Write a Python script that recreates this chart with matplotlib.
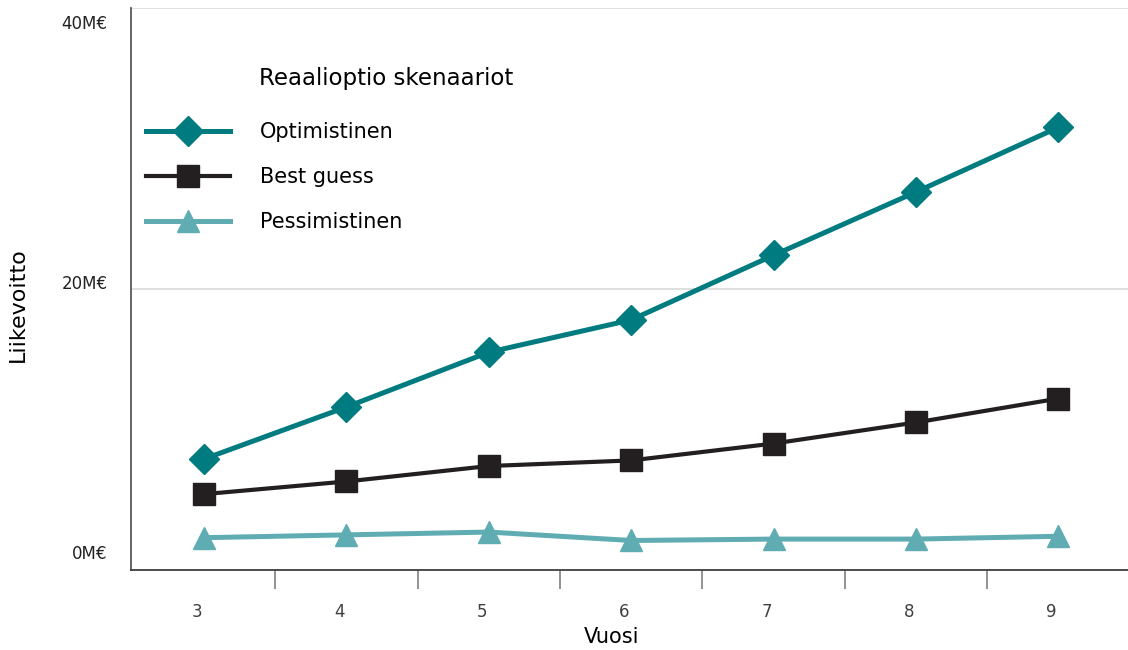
import numpy as np
import matplotlib
matplotlib.use('Agg')
import matplotlib.pyplot as plt
from matplotlib.transforms import ScaledTranslation

# Data (values in M€)
years = [3, 4, 5, 6, 7, 8, 9]
optimistinen = [7.9, 11.6, 15.5, 17.8, 22.4, 26.9, 31.5]
best_guess = [5.4, 6.3, 7.4, 7.8, 9.0, 10.5, 12.2]
pessimistinen = [2.3, 2.5, 2.7, 2.1, 2.2, 2.2, 2.4]
y_ticks = [0, 20, 40]
y_tick_labels = ['0M€', '20M€', '40M€']

c_opt = '#007B80'
c_best = '#231F20'
c_pess = '#5FADB3'

fig = plt.figure(figsize=(11.28, 6.5), dpi=100)
ax = fig.add_axes([131 / 1128, 80 / 650, 997 / 1128, 562 / 650])

ax.plot(years, optimistinen, color=c_opt, lw=3.6, marker='D', ms=15, mec=c_opt,
        label='Optimistinen', zorder=4)
ax.plot(years, best_guess, color=c_best, lw=3.0, marker='s', ms=15.5, mec=c_best,
        label='Best guess', zorder=4)
ax.plot(years, pessimistinen, color=c_pess, lw=3.6, marker='^', ms=15.5, mec=c_pess,
        label='Pessimistinen', zorder=4)

ax.set_xlim(2.487, 9.49)
ax.set_ylim(0, 40)

# y axis: gridlines at 0/20/40, labels placed like the original
ax.set_yticks(y_ticks)
ax.set_yticklabels(y_tick_labels, fontsize=12, color='#222222')
ax.tick_params(axis='y', length=0, pad=17)
offsets = [18, 7, -14]  # px upward shift of each label
for lab, off in zip(ax.get_yticklabels(), offsets):
    lab.set_transform(lab.get_transform() + ScaledTranslation(0, off / 100, fig.dpi_scale_trans))
ax.grid(axis='y', color='#D9D9D9', lw=1.2)
ax.set_axisbelow(True)

# x axis: tick marks between categories, labels under the points
ax.set_xticks([y + 0.5 for y in years[:-1]])
ax.set_xticklabels([])
ax.tick_params(axis='x', which='major', length=14, width=1.2, color='#7F7F7F')
ax.set_xticks([y - 0.05 for y in years], minor=True)
ax.set_xticklabels([str(y) for y in years], minor=True, fontsize=12, color='#404040')
ax.tick_params(axis='x', which='minor', length=0, pad=24)

for s in ['top', 'right']:
    ax.spines[s].set_visible(False)
ax.spines['left'].set_color('#595959')
ax.spines['left'].set_linewidth(1.3)
ax.spines['bottom'].set_color('#404040')
ax.spines['bottom'].set_linewidth(1.3)

ax.set_xlabel('Vuosi', fontsize=15, va='center')
ax.xaxis.set_label_coords(0.4825, -0.119)
ax.set_ylabel('Liikevoitto', fontsize=16, va='center')
ax.yaxis.set_label_coords(-0.1133, 0.4715)

# legend
ax.text(0.128, 0.874, 'Reaalioptio skenaariot', transform=ax.transAxes,
        fontsize=16.5, va='center', ha='left')
ax.legend(loc='upper left', bbox_to_anchor=(0.007, 0.812), frameon=False,
          fontsize=15, handlelength=4.0, handletextpad=1.45, labelspacing=1.21,
          borderaxespad=0.0, markerscale=1.0)

fig.savefig('out.png', dpi=100)
